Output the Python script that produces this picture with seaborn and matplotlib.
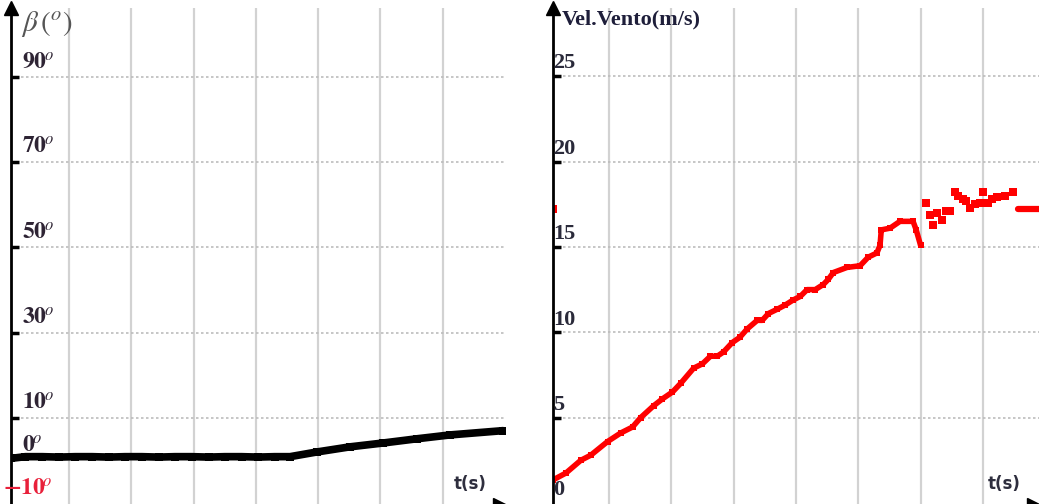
import numpy as np
import matplotlib
matplotlib.use("Agg")
import matplotlib.pyplot as plt
import seaborn as sns

# pitch angle (left panel)
beta_t = [0.07, 0.3, 0.57, 0.84, 1.1, 1.37, 1.64, 1.9, 2.17, 2.44, 2.7, 2.97, 3.24,
          3.5, 3.77, 4.04, 4.3, 4.55, 4.98, 5.51, 6.04, 6.59, 7.12, 7.97]
beta_deg = [0.5, 0.9, 0.9, 0.8, 0.9, 0.9, 0.8, 0.9, 0.9, 0.8, 0.9, 0.9, 0.8,
            0.9, 0.9, 0.8, 0.9, 0.9, 2.0, 3.2, 4.1, 5.1, 6.0, 7.0]
beta_grid = [10, 30, 50, 70, 90]
beta_labels = [-10, 0, 10, 30, 50, 70, 90]

# wind speed (right panel)
wind_t = [0.104, 0.31, 0.55, 0.71, 0.98, 1.19, 1.38, 1.51, 1.72, 1.86, 2.02, 2.15,
          2.36, 2.5, 2.63, 2.74, 2.84, 2.98, 3.1, 3.22, 3.38, 3.46, 3.56, 3.7,
          3.83, 3.96, 4.07, 4.18, 4.31, 4.44, 4.52, 4.6, 4.82, 5.03, 5.16, 5.3,
          5.35, 5.37, 5.51, 5.67, 5.88, 5.93, 6.0]
wind_v = [1.35, 1.75, 2.5, 2.8, 3.6, 4.1, 4.45, 5.0, 5.7, 6.1, 6.5, 7.0,
          7.9, 8.15, 8.6, 8.6, 8.85, 9.4, 9.7, 10.2, 10.7, 10.7, 11.1, 11.35,
          11.6, 11.9, 12.1, 12.5, 12.5, 12.8, 13.1, 13.5, 13.8, 13.9, 14.4, 14.65,
          15.1, 16.0, 16.1, 16.5, 16.5, 16.0, 15.1]
gust_t = [0.11, 6.09, 6.15, 6.2, 6.26, 6.34, 6.41, 6.47, 6.55, 6.6, 6.68, 6.73, 6.79,
          6.87, 6.95, 7.0, 7.08, 7.14, 7.22, 7.35, 7.48]
gust_v = [17.2, 17.6, 16.9, 16.3, 17.0, 16.6, 17.1, 17.1, 18.2, 18.0, 17.8, 17.7, 17.3,
          17.5, 17.6, 18.2, 17.6, 17.8, 17.9, 18.0, 18.2]
tail_t = [7.56, 7.9]
tail_v = [17.2, 17.2]
wind_grid = [5, 10, 15, 20, 25]
wind_labels = [0, 5, 10, 15, 20, 25]

time_grid = [1, 2, 3, 4, 5, 6, 7]

sns.set_style("white")
plt.rcParams["mathtext.fontset"] = "stix"
plt.rcParams["font.family"] = ["Liberation Serif", "DejaVu Serif"]

fig = plt.figure(figsize=(10.39, 5.04), dpi=100)
W, H = 1039, 504
ax1 = fig.add_axes([11 / W, 0, 494 / W, 496 / H])
ax2 = fig.add_axes([553 / W, 0, 486 / W, 496 / H])


def style_axis(ax, xlim, ylim, ygrid):
    ax.set_xlim(*xlim)
    ax.set_ylim(*ylim)
    ax.set_xticks(time_grid)
    ax.set_yticks(ygrid)
    ax.set_xticklabels([])
    ax.set_yticklabels([])
    ax.grid(axis="x", color="#d2d2d2", lw=1.6, ls="-")
    ax.grid(axis="y", color="#bcbcbc", lw=1.2, ls=(0, (1.5, 1.5)))
    for s in ["top", "right", "bottom"]:
        ax.spines[s].set_visible(False)
    ax.spines["left"].set_color("black")
    ax.spines["left"].set_linewidth(2)
    ax.tick_params(axis="y", direction="in", length=6, width=2.5, color="black", left=True)
    ax.tick_params(axis="x", length=0)
    ax.set_axisbelow(True)
    # arrows of the axes
    ax.plot(0, 1, marker="^", ms=10, color="black", transform=ax.transAxes, clip_on=False)
    ax.plot(0.992, -0.005, marker=">", ms=11, color="black", transform=ax.transAxes, clip_on=False)
    ax.text(0.962, 0.022, "t(s)", transform=ax.transAxes, ha="right", va="bottom",
            fontsize=12, fontweight="bold", family="DejaVu Sans", color="#2e2e3e")


# left panel: beta
style_axis(ax1, (0.069, 8.0), (-10.2, 106.1), beta_grid)
sns.lineplot(x=beta_t, y=beta_deg, ax=ax1, color="black", lw=5.5, estimator=None,
             sort=False, marker="s", markersize=5.5, markeredgewidth=0)
ax1.set_xlabel("")
ax1.set_ylabel("")
for v in beta_labels:
    col = "#e8203a" if v < 0 else "#2e2434"
    dx = -6 if v < 0 else 8
    ax1.annotate(r"$\mathbf{%s}^{\!o}$" % ("\u2212" + str(-v) if v < 0 else str(v)),
                 xy=(0, v), xycoords=("axes fraction", "data"),
                 xytext=(dx, 2), textcoords="offset points", ha="left", va="bottom",
                 fontsize=17, color=col)
ax1.text(0.02, 0.998, r"$\beta\,(^{o})$", transform=ax1.transAxes, ha="left", va="top",
         fontsize=21, color="#555555")

# right panel: wind speed
style_axis(ax2, (0.104, 7.9), (-0.06, 29.0), wind_grid)
sns.lineplot(x=wind_t, y=wind_v, ax=ax2, color="#ff0000", lw=4, estimator=None,
             sort=False, marker="s", markersize=5, markeredgewidth=0)
sns.scatterplot(x=gust_t, y=gust_v, ax=ax2, color="#ff0000", marker="s", s=26,
                linewidth=0)
sns.lineplot(x=tail_t, y=tail_v, ax=ax2, color="#ff0000", lw=4.5, estimator=None)
ax2.set_xlabel("")
ax2.set_ylabel("")
for v in wind_labels:
    ax2.annotate(str(v), xy=(0, v), xycoords=("axes fraction", "data"),
                 xytext=(0, 2), textcoords="offset points", ha="left", va="bottom",
                 fontsize=16, fontweight="bold", color="#2a2a3a")
ax2.text(0.018, 0.998, "Vel.Vento(m/s)", transform=ax2.transAxes, ha="left", va="top",
         fontsize=16, fontweight="bold", color="#1e1e3a")

fig.savefig("out.png", dpi=100)
